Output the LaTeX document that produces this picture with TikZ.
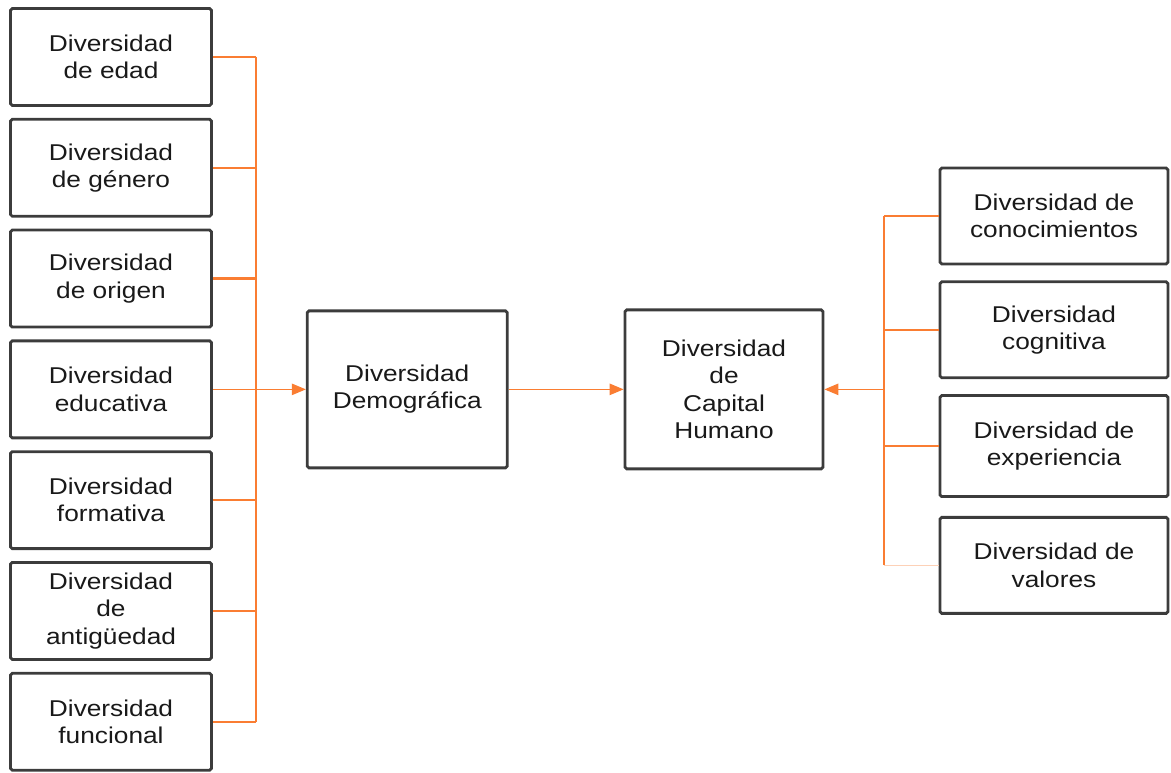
\documentclass[tikz,border=0pt]{standalone}
\usepackage{fontspec}
\setmainfont{Liberation Sans}[FakeStretch=1.15]
\usetikzlibrary{positioning,arrows.meta}

\definecolor{naranja}{RGB}{250,125,50}
\definecolor{borde}{RGB}{60,60,60}

\tikzset{
  caja/.style={draw=borde,line width=1.6pt,rounded corners=1pt,align=center,
    text=black!90,font=\fontsize{13}{15.5}\selectfont,inner sep=2pt},
  izq/.style={caja,minimum width=4.02cm,minimum height=1.94cm},
  der/.style={caja,minimum width=4.56cm,minimum height=1.92cm},
  rama/.style={draw=naranja,line width=1.3pt},
  flecha/.style={draw=naranja,line width=0.8pt,-{Triangle[length=8pt,width=6.5pt]}}
}

\begin{document}
\begin{tikzpicture}[x=0.02cm,y=-0.02cm,node distance=0.22cm]
\useasboundingbox (0,0) rectangle (1171,773);

% columna izquierda
\node[izq](e1) at (111,57){Diversidad\\de edad};
\node[izq](e2)[below=of e1]{Diversidad\\de género};
\node[izq](e3)[below=of e2]{Diversidad\\de origen};
\node[izq](e4)[below=of e3]{Diversidad\\educativa};
\node[izq](e5)[below=of e4]{Diversidad\\formativa};
\node[izq](e6)[below=of e5]{Diversidad\\de\\antigüedad};
\node[izq](e7)[below=of e6]{Diversidad\\funcional};

% centro
\node[caja,minimum width=4cm,minimum height=3.14cm](demo)[right=1.86cm of e4]{Diversidad\\Demográfica};
\node[caja,minimum width=3.96cm,minimum height=3.18cm](cap)[right=2.3cm of demo]{Diversidad\\de\\Capital\\Humano};

% columna derecha
\node[der](d1) at (1054,216){Diversidad de\\conocimientos};
\node[der](d2)[below=0.3cm of d1]{Diversidad\\cognitiva};
\node[der,minimum height=2.02cm](d3)[below=0.3cm of d2]{Diversidad de\\experiencia};
\node[der](d4)[below=0.36cm of d3]{Diversidad de\\valores};

\coordinate(lt) at (256,0);
\coordinate(rt) at (884,0);

\foreach \n in {e1,e2,e3,e5,e6,e7}
  \draw[rama](\n.east)--(\n.east -| lt);
\draw[rama](e1.east -| lt)--(e7.east -| lt);
\draw[flecha](e4.east)--(demo.west);
\draw[flecha](demo.east)--(cap.west);

\foreach \n in {d1,d2,d3}
  \draw[rama](\n.west)--(\n.west -| rt);
\draw[draw=naranja!35,line width=0.8pt](d4.west)--(d4.west -| rt);
\draw[rama](d1.west -| rt)--(d4.west -| rt);
\draw[flecha](cap.east -| rt)--(cap.east);

\end{tikzpicture}
\end{document}
